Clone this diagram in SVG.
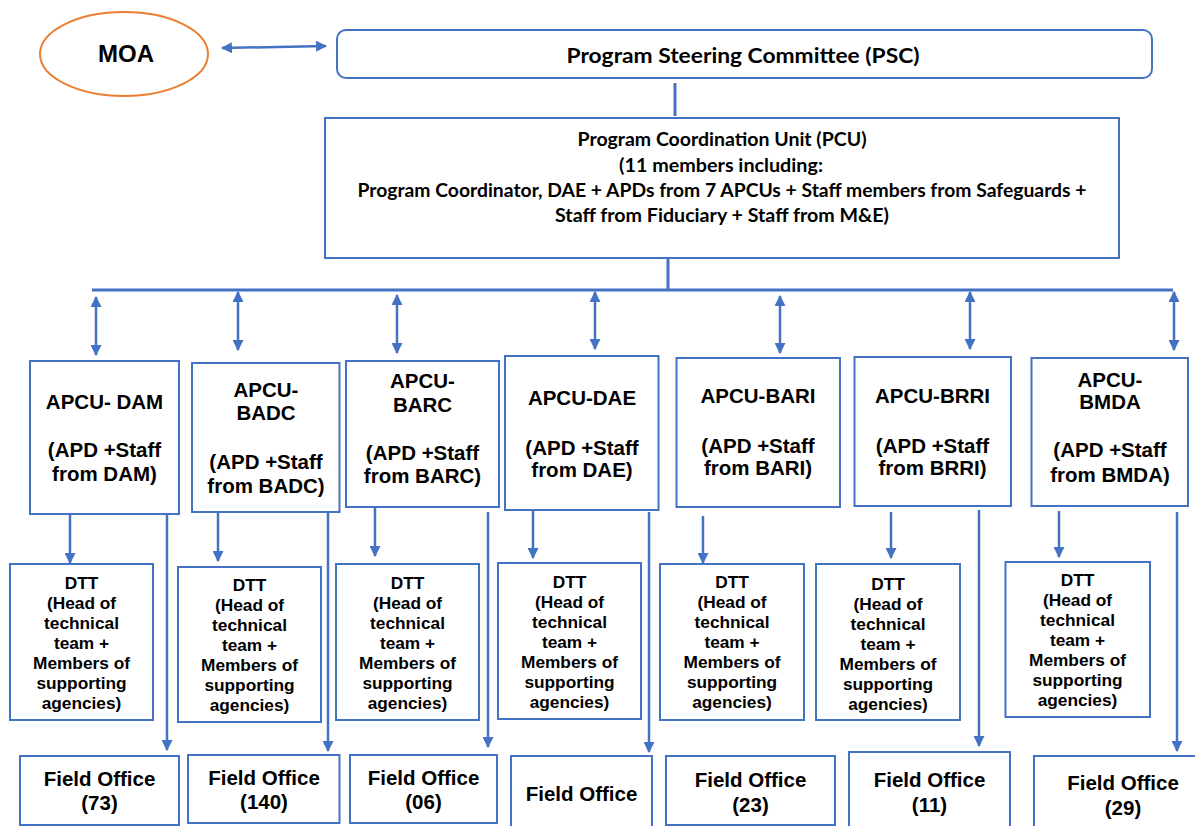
<svg xmlns="http://www.w3.org/2000/svg" width="1195" height="826" viewBox="0 0 1195 826">
<defs>
<marker id="ah" viewBox="0 0 10 10" refX="9" refY="5" markerUnits="userSpaceOnUse" markerWidth="11" markerHeight="11" orient="auto-start-reverse">
<path d="M0,0 L10,5 L0,10 z" fill="#4472C4"/>
</marker>
<style>
.box{fill:#fff;stroke:#4472C4;stroke-width:2}
.ln{stroke:#4472C4;stroke-width:3;fill:none}
.ar{stroke:#4472C4;stroke-width:2.5;fill:none}
.cal{font-family:Lato,"Open Sans",sans-serif;font-weight:bold;fill:#000;text-anchor:middle}
.ap{font-family:"Liberation Sans",Arial,sans-serif;font-weight:bold;font-size:20.5px;fill:#000;text-anchor:middle}
.dt{font-family:"Liberation Sans",Arial,sans-serif;font-weight:bold;font-size:17.3px;fill:#000;text-anchor:middle}
</style>
</defs>
<rect width="1195" height="826" fill="#fff"/>

<g id="connectors">
<line class="ar" x1="222" y1="48" x2="326" y2="46" marker-start="url(#ah)" marker-end="url(#ah)"/>
<line class="ln" x1="675" y1="83" x2="675" y2="116"/>
<line class="ln" x1="668" y1="258" x2="668" y2="290"/>
<line class="ln" x1="92" y1="290" x2="1173" y2="290"/>
<line class="ar" x1="96" y1="297" x2="96" y2="355" marker-start="url(#ah)" marker-end="url(#ah)"/>
<line class="ar" x1="238" y1="292" x2="238" y2="350" marker-start="url(#ah)" marker-end="url(#ah)"/>
<line class="ar" x1="397" y1="295" x2="397" y2="353" marker-start="url(#ah)" marker-end="url(#ah)"/>
<line class="ar" x1="595" y1="292" x2="595" y2="349" marker-start="url(#ah)" marker-end="url(#ah)"/>
<line class="ar" x1="780" y1="296" x2="780" y2="353" marker-start="url(#ah)" marker-end="url(#ah)"/>
<line class="ar" x1="970" y1="292" x2="970" y2="349" marker-start="url(#ah)" marker-end="url(#ah)"/>
<line class="ar" x1="1174" y1="292" x2="1174" y2="350" marker-start="url(#ah)" marker-end="url(#ah)"/>
<line class="ar" x1="70" y1="515" x2="70" y2="563" marker-end="url(#ah)"/>
<line class="ar" x1="167" y1="515" x2="167" y2="750" marker-end="url(#ah)"/>
<line class="ar" x1="218" y1="513" x2="218" y2="561" marker-end="url(#ah)"/>
<line class="ar" x1="328" y1="513" x2="328" y2="751" marker-end="url(#ah)"/>
<line class="ar" x1="375" y1="508" x2="375" y2="556" marker-end="url(#ah)"/>
<line class="ar" x1="488" y1="512" x2="488" y2="747" marker-end="url(#ah)"/>
<line class="ar" x1="533" y1="511" x2="533" y2="558" marker-end="url(#ah)"/>
<line class="ar" x1="649" y1="512" x2="649" y2="752" marker-end="url(#ah)"/>
<line class="ar" x1="703" y1="516" x2="703" y2="563" marker-end="url(#ah)"/>
<line class="ar" x1="891" y1="512" x2="891" y2="558" marker-end="url(#ah)"/>
<line class="ar" x1="979" y1="510" x2="979" y2="746" marker-end="url(#ah)"/>
<line class="ar" x1="1059" y1="511" x2="1059" y2="557" marker-end="url(#ah)"/>
<line class="ar" x1="1177" y1="512" x2="1177" y2="751" marker-end="url(#ah)"/>
</g>

<g id="moa">
<ellipse cx="124" cy="54" rx="84" ry="42" fill="#fff" stroke="#ED7D31" stroke-width="2"/>
<text x="126" y="62" font-family="Liberation Sans,Arial,sans-serif" font-weight="bold" font-size="24" text-anchor="middle">MOA</text>
</g>

<g id="psc">
<rect class="box" x="337" y="30" width="815" height="48" rx="9"/>
<text class="cal" x="743" y="63" font-size="21" textLength="353" lengthAdjust="spacingAndGlyphs">Program Steering Committee (PSC)</text>
</g>

<g id="pcu">
<rect class="box" x="325" y="118" width="794" height="140"/>
<text class="cal" x="722" y="146" font-size="18" textLength="289" lengthAdjust="spacingAndGlyphs">Program Coordination Unit (PCU)</text>
<text class="cal" x="721" y="171.5" font-size="18" textLength="204" lengthAdjust="spacingAndGlyphs">(11 members including:</text>
<text class="cal" x="722" y="196.5" font-size="18" textLength="729" lengthAdjust="spacingAndGlyphs">Program Coordinator, DAE + APDs from 7 APCUs + Staff members from Safeguards +</text>
<text class="cal" x="722" y="221.5" font-size="18" textLength="334" lengthAdjust="spacingAndGlyphs">Staff from Fiduciary + Staff from M&amp;E)</text>
</g>

<g id="apcu-dam">
<rect class="box" x="30" y="361" width="149" height="153"/>
<text class="ap" x="104.5" y="409">APCU- DAM</text>
<text class="ap" x="104.5" y="457">(APD +Staff</text>
<text class="ap" x="104.5" y="481">from DAM)</text>
</g>
<g id="apcu-badc">
<rect class="box" x="192" y="363" width="147.5" height="149"/>
<text class="ap" x="266" y="397">APCU-</text>
<text class="ap" x="266" y="420">BADC</text>
<text class="ap" x="266" y="469">(APD +Staff</text>
<text class="ap" x="266" y="493">from BADC)</text>
</g>
<g id="apcu-barc">
<rect class="box" x="346" y="361" width="153" height="146"/>
<text class="ap" x="422.5" y="388">APCU-</text>
<text class="ap" x="422.5" y="412">BARC</text>
<text class="ap" x="422.5" y="460">(APD +Staff</text>
<text class="ap" x="422.5" y="483">from BARC)</text>
</g>
<g id="apcu-dae">
<rect class="box" x="505" y="356" width="153.5" height="154"/>
<text class="ap" x="582" y="405">APCU-DAE</text>
<text class="ap" x="582" y="455">(APD +Staff</text>
<text class="ap" x="582" y="477">from DAE)</text>
</g>
<g id="apcu-bari">
<rect class="box" x="676.5" y="358" width="163.5" height="149"/>
<text class="ap" x="758" y="403">APCU-BARI</text>
<text class="ap" x="758" y="453">(APD +Staff</text>
<text class="ap" x="758" y="475">from BARI)</text>
</g>
<g id="apcu-brri">
<rect class="box" x="854.5" y="357" width="156.5" height="149"/>
<text class="ap" x="932.5" y="403">APCU-BRRI</text>
<text class="ap" x="932.5" y="453">(APD +Staff</text>
<text class="ap" x="932.5" y="475">from BRRI)</text>
</g>
<g id="apcu-bmda">
<rect class="box" x="1031.5" y="358" width="156.5" height="148"/>
<text class="ap" x="1110" y="387">APCU-</text>
<text class="ap" x="1110" y="409">BMDA</text>
<text class="ap" x="1110" y="457">(APD +Staff</text>
<text class="ap" x="1110" y="482">from BMDA)</text>
</g>

<g id="dtt-dam">
<rect class="box" x="10" y="564" width="143" height="156"/>
<text class="dt" x="81.5"><tspan x="81.5" y="589">DTT</tspan><tspan x="81.5" y="609">(Head of</tspan><tspan x="81.5" y="629">technical</tspan><tspan x="81.5" y="649">team +</tspan><tspan x="81.5" y="669">Members of</tspan><tspan x="81.5" y="689">supporting</tspan><tspan x="81.5" y="709">agencies)</tspan></text>
</g>
<g id="dtt-badc">
<rect class="box" x="178" y="567" width="143" height="155"/>
<text class="dt" x="249.5"><tspan x="249.5" y="591">DTT</tspan><tspan x="249.5" y="611">(Head of</tspan><tspan x="249.5" y="631">technical</tspan><tspan x="249.5" y="651">team +</tspan><tspan x="249.5" y="671">Members of</tspan><tspan x="249.5" y="691">supporting</tspan><tspan x="249.5" y="711">agencies)</tspan></text>
</g>
<g id="dtt-barc">
<rect class="box" x="336" y="564" width="143" height="156"/>
<text class="dt" x="407.5"><tspan x="407.5" y="589">DTT</tspan><tspan x="407.5" y="609">(Head of</tspan><tspan x="407.5" y="629">technical</tspan><tspan x="407.5" y="649">team +</tspan><tspan x="407.5" y="669">Members of</tspan><tspan x="407.5" y="689">supporting</tspan><tspan x="407.5" y="709">agencies)</tspan></text>
</g>
<g id="dtt-dae">
<rect class="box" x="498" y="563" width="143" height="156"/>
<text class="dt" x="569.5"><tspan x="569.5" y="588">DTT</tspan><tspan x="569.5" y="608">(Head of</tspan><tspan x="569.5" y="628">technical</tspan><tspan x="569.5" y="648">team +</tspan><tspan x="569.5" y="668">Members of</tspan><tspan x="569.5" y="688">supporting</tspan><tspan x="569.5" y="708">agencies)</tspan></text>
</g>
<g id="dtt-bari">
<rect class="box" x="660" y="564" width="144" height="156"/>
<text class="dt" x="732"><tspan x="732" y="588">DTT</tspan><tspan x="732" y="608">(Head of</tspan><tspan x="732" y="628">technical</tspan><tspan x="732" y="648">team +</tspan><tspan x="732" y="668">Members of</tspan><tspan x="732" y="688">supporting</tspan><tspan x="732" y="708">agencies)</tspan></text>
</g>
<g id="dtt-brri">
<rect class="box" x="816" y="564" width="144" height="156"/>
<text class="dt" x="888"><tspan x="888" y="590">DTT</tspan><tspan x="888" y="610">(Head of</tspan><tspan x="888" y="630">technical</tspan><tspan x="888" y="650">team +</tspan><tspan x="888" y="670">Members of</tspan><tspan x="888" y="690">supporting</tspan><tspan x="888" y="710">agencies)</tspan></text>
</g>
<g id="dtt-bmda">
<rect class="box" x="1005.5" y="562" width="144.5" height="155"/>
<text class="dt" x="1077.5"><tspan x="1077.5" y="586">DTT</tspan><tspan x="1077.5" y="606">(Head of</tspan><tspan x="1077.5" y="626">technical</tspan><tspan x="1077.5" y="646">team +</tspan><tspan x="1077.5" y="666">Members of</tspan><tspan x="1077.5" y="686">supporting</tspan><tspan x="1077.5" y="706">agencies)</tspan></text>
</g>

<g id="fo-dam">
<rect class="box" x="20" y="756" width="159" height="69"/>
<text class="ap" x="99.5" y="786">Field Office</text>
<text class="ap" x="99.5" y="810">(73)</text>
</g>
<g id="fo-badc">
<rect class="box" x="188" y="755" width="151.5" height="68"/>
<text class="ap" x="264" y="785">Field Office</text>
<text class="ap" x="264" y="809">(140)</text>
</g>
<g id="fo-barc">
<rect class="box" x="350" y="755" width="147" height="68"/>
<text class="ap" x="423.5" y="785">Field Office</text>
<text class="ap" x="423.5" y="809">(06)</text>
</g>
<g id="fo-dae">
<rect class="box" x="511" y="756" width="141" height="90"/>
<text class="ap" x="581.5" y="801">Field Office</text>
</g>
<g id="fo-bari">
<rect class="box" x="666" y="756" width="169" height="69"/>
<text class="ap" x="750.5" y="787">Field Office</text>
<text class="ap" x="750.5" y="812">(23)</text>
</g>
<g id="fo-brri">
<rect class="box" x="849" y="752" width="161" height="94"/>
<text class="ap" x="929.5" y="787">Field Office</text>
<text class="ap" x="929.5" y="812">(11)</text>
</g>
<g id="fo-bmda">
<rect class="box" x="1034" y="756" width="178" height="90"/>
<text class="ap" x="1123" y="790">Field Office</text>
<text class="ap" x="1123" y="815">(29)</text>
</g>
</svg>
